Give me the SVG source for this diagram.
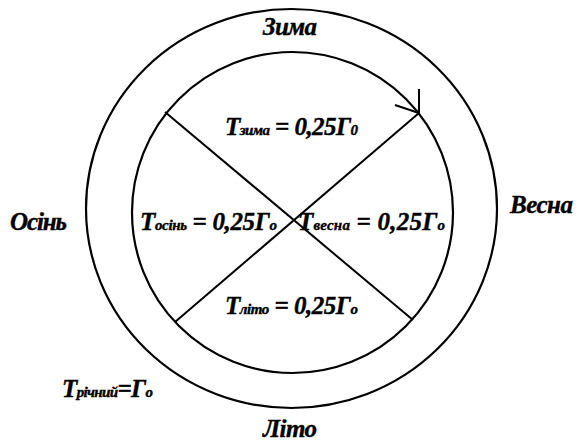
<svg xmlns="http://www.w3.org/2000/svg" width="577" height="441" viewBox="0 0 577 441">
<style>
.c{fill:none;stroke:#000;stroke-width:2.2}
.l{fill:none;stroke:#000;stroke-width:2}
text{font-family:"Liberation Serif","Times New Roman",serif;font-weight:bold;font-style:italic;fill:#000;stroke:#000;stroke-width:0.4}
.big{font-size:25px}
.s{font-size:15px}
</style>
<rect width="577" height="441" fill="#fff"/>
<g id="outer-circle"><ellipse class="c" cx="291.5" cy="208.5" rx="205.5" ry="199.5"/></g>
<g id="inner-circle"><circle class="c" cx="292.5" cy="212.5" r="160.5"/></g>
<g id="connectors">
<line class="l" x1="165" y1="112" x2="413" y2="320"/>
<line class="l" x1="175" y1="322" x2="419" y2="113"/>
<polyline class="l" points="419,89 419,113 395,105"/>
</g>
<g id="season-zima"><text class="big" x="263" y="35" textLength="54">Зима</text></g>
<g id="season-vesna"><text class="big" x="510" y="213" textLength="63">Весна</text></g>
<g id="season-osin"><text class="big" x="10" y="230" textLength="57">Осінь</text></g>
<g id="season-lito"><text class="big" x="263" y="437" textLength="54">Літо</text></g>
<g id="t-zima"><text class="big" x="225" y="135" textLength="133">T<tspan class="s">зима</tspan> = 0,25Г<tspan class="s">0</tspan></text></g>
<g id="t-osin"><text class="big" x="140" y="230" textLength="137">T<tspan class="s">осінь</tspan> = 0,25Г<tspan class="s">о</tspan></text></g>
<g id="t-vesna"><text class="big" x="298" y="230" textLength="147">T<tspan class="s">весна</tspan> = 0,25Г<tspan class="s">о</tspan></text></g>
<g id="t-lito"><text class="big" x="225" y="314" textLength="133">T<tspan class="s">літо</tspan> = 0,25Г<tspan class="s">о</tspan></text></g>
<g id="t-richnyi"><text class="big" x="62" y="397" textLength="91">T<tspan class="s">річний</tspan>=Г<tspan class="s">о</tspan></text></g>
</svg>
